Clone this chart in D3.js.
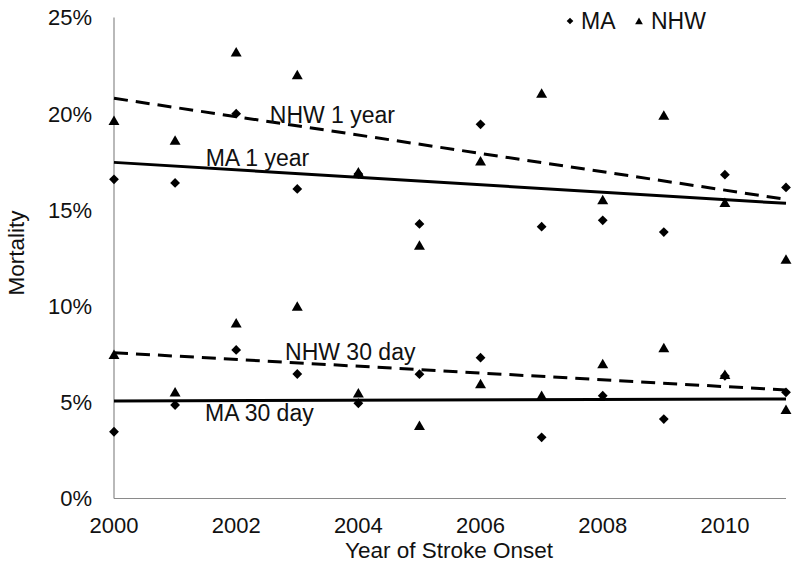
<!DOCTYPE html>
<html>
<head>
<meta charset="utf-8">
<script src="https://cdn.jsdelivr.net/npm/d3@7"></script>
<style>
  html, body { margin: 0; padding: 0; background: #fff; }
  svg { display: block; font-family: "Liberation Sans", Arial, Helvetica, sans-serif; }
</style>
</head>
<body>
<svg id="chart" width="800" height="567"></svg>
<script>
// ---- Data ----
const years = [2000, 2001, 2002, 2003, 2004, 2005, 2006, 2007, 2008, 2009, 2010, 2011];
const ma1year   = [16.59, 16.40, 20.00, 16.09, 16.87, 14.27, 19.45, 14.13, 14.46, 13.85, 16.83, 16.17];
const nhw1year  = [19.58, 18.55, 23.14, 21.96, 16.90, 13.09, 17.47, 20.99, 15.46, 19.85, 15.31, 12.36];
const ma30day   = [3.47, 4.86, 7.72, 6.47, 4.95, 6.46, 7.32, 3.18, 5.34, 4.13, 6.37, 5.52];
const nhw30day  = [7.41, 5.47, 9.05, 9.92, 5.42, 3.73, 5.90, 5.29, 6.94, 7.77, 6.38, 4.56];

// Linear trendline endpoints (value at 2000, value at 2011)
const trendYears = [2000, 2011];
const ma1yearTrend  = [17.47, 15.34];
const nhw1yearTrend = [20.80, 15.55];
const ma30dayTrend  = [5.07, 5.17];
const nhw30dayTrend = [7.58, 5.64];

const xTicks = [2000, 2002, 2004, 2006, 2008, 2010];
const yTicks = [0, 5, 10, 15, 20, 25];
const legendLabels = ["MA", "NHW"];
const trendLabels = ["NHW 1 year", "MA 1 year", "NHW 30 day", "MA 30 day"];

// ---- Layout ----
const svg = d3.select("#chart");
const x = d3.scaleLinear().domain([2000, 2011]).range([114, 786]);
const y = d3.scaleLinear().domain([0, 25]).range([498.5, 17.5]);

const axisColor = "#8a8a8a";

// Axes lines
svg.append("line")
  .attr("x1", x(2000)).attr("x2", x(2000))
  .attr("y1", y(25)).attr("y2", y(0))
  .attr("stroke", axisColor).attr("stroke-width", 1.2);
svg.append("line")
  .attr("x1", x(2000)).attr("x2", x(2011))
  .attr("y1", y(0)).attr("y2", y(0))
  .attr("stroke", axisColor).attr("stroke-width", 1.2);

// Y tick labels
svg.append("g").selectAll("text").data(yTicks).join("text")
  .attr("x", 92)
  .attr("y", d => y(d))
  .attr("dy", "0.36em")
  .attr("text-anchor", "end")
  .attr("font-size", 22)
  .attr("fill", "#111")
  .text(d => d + "%");

// X tick labels
svg.append("g").selectAll("text").data(xTicks).join("text")
  .attr("x", d => x(d))
  .attr("y", 533)
  .attr("text-anchor", "middle")
  .attr("font-size", 22)
  .attr("fill", "#111")
  .text(d => d);

// Axis titles
svg.append("text")
  .attr("x", 449).attr("y", 558)
  .attr("text-anchor", "middle")
  .attr("font-size", 22.5)
  .attr("fill", "#111")
  .text("Year of Stroke Onset");
svg.append("text")
  .attr("transform", "translate(24,253) rotate(-90)")
  .attr("text-anchor", "middle")
  .attr("font-size", 22.5)
  .attr("fill", "#111")
  .text("Mortality");

// Trendlines
const line = d3.line().x(d => x(d[0])).y(d => y(d[1]));
const trends = [
  { vals: nhw1yearTrend, dash: "14,8" },
  { vals: ma1yearTrend, dash: null },
  { vals: nhw30dayTrend, dash: "14,8" },
  { vals: ma30dayTrend, dash: null }
];
trends.forEach(t => {
  svg.append("path")
    .datum(trendYears.map((yr, i) => [yr, t.vals[i]]))
    .attr("d", line)
    .attr("fill", "none")
    .attr("stroke", "#000")
    .attr("stroke-width", 3)
    .attr("stroke-dasharray", t.dash);
});

// Markers
const diamond = d3.symbol().type(d3.symbolSquare).size(48);
const triangle = d3.symbol().type(d3.symbolTriangle).size(52);

function drawTriangles(vals) {
  svg.append("g").selectAll("path").data(vals).join("path")
    .attr("d", triangle)
    .attr("transform", (d, i) => `translate(${x(years[i])},${y(d)})`)
    .attr("fill", "#000");
}
function drawDiamonds(vals) {
  svg.append("g").selectAll("path").data(vals).join("path")
    .attr("d", diamond)
    .attr("transform", (d, i) => `translate(${x(years[i])},${y(d)}) rotate(45)`)
    .attr("fill", "#000");
}
drawTriangles(nhw1year);
drawTriangles(nhw30day);
drawDiamonds(ma1year);
drawDiamonds(ma30day);

// Trend labels
const labelPos = [
  { text: trendLabels[0], yr: 2002.55, v: 19.93 },
  { text: trendLabels[1], yr: 2001.50, v: 17.70 },
  { text: trendLabels[2], yr: 2002.80, v: 7.61 },
  { text: trendLabels[3], yr: 2001.49, v: 4.44 }
];
svg.append("g").selectAll("text").data(labelPos).join("text")
  .attr("x", d => x(d.yr))
  .attr("y", d => y(d.v))
  .attr("dy", "0.36em")
  .attr("font-size", 23)
  .attr("fill", "#111")
  .text(d => d.text);

// Legend
const legend = svg.append("g");
legend.append("path")
  .attr("d", d3.symbol().type(d3.symbolSquare).size(22))
  .attr("transform", "translate(570,21) rotate(45)")
  .attr("fill", "#000");
legend.append("text")
  .attr("x", 581).attr("y", 29)
  .attr("font-size", 23)
  .attr("fill", "#111")
  .text(legendLabels[0]);
legend.append("path")
  .attr("d", d3.symbol().type(d3.symbolTriangle).size(26))
  .attr("transform", "translate(639,22)")
  .attr("fill", "#000");
legend.append("text")
  .attr("x", 651).attr("y", 29)
  .attr("font-size", 23)
  .attr("fill", "#111")
  .text(legendLabels[1]);
</script>
</body>
</html>
